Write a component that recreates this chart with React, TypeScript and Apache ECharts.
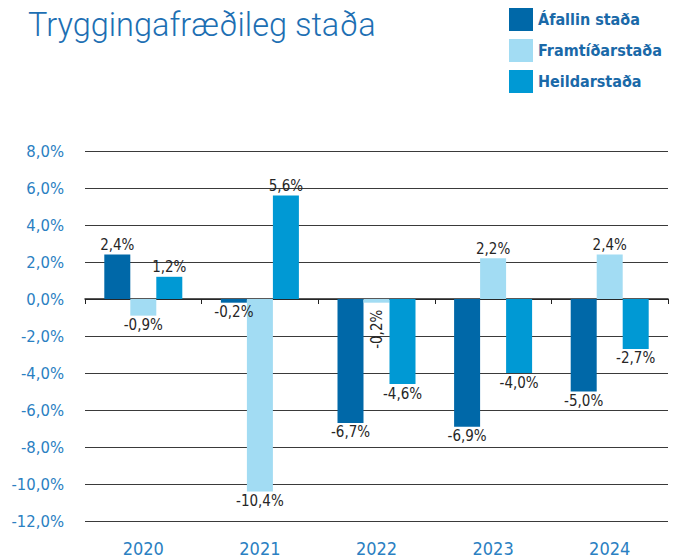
import React, { useEffect, useRef } from "react";
import * as echarts from "echarts";

const categories = ["2020", "2021", "2022", "2023", "2024"];
const seriesNames = ["Áfallin staða", "Framtíðarstaða", "Heildarstaða"];
const afallin = [2.4, -0.2, -6.7, -6.9, -5.0];
const framtidar = [-0.9, -10.4, -0.2, 2.2, 2.4];
const heildar = [1.2, 5.6, -4.6, -4.0, -2.7];
const titleText = "Tryggingafræðileg staða";

const colors = ["#0068a8", "#a2dcf3", "#0099d4"];
const FONT = "'DejaVu Sans Condensed', 'DejaVu Sans', sans-serif";

const fmt = (v: number) => v.toFixed(1).replace(".", ",") + "%";

export default function App() {
  const ref = useRef<HTMLDivElement>(null);
  useEffect(() => {
    document.body.style.margin = "0";
    const chart = echarts.init(ref.current!, null, { renderer: "svg" });
    const labelStyle = {
      show: true,
      position: "top" as const,
      distance: 2,
      fontFamily: FONT,
      fontSize: 15,
      color: "#262626",
      formatter: (p: any) => fmt(p.value),
    };
    const mkData = (arr: number[], rotateIdx: number[] = []) =>
      arr.map((v, i) => {
        const neg = v < 0;
        const rot = rotateIdx.includes(i);
        return {
          value: v,
          label: rot
            ? { ...labelStyle, position: "bottom", rotate: 90, align: "right", verticalAlign: "middle", distance: 7 }
            : { ...labelStyle, position: neg ? "bottom" : "top" },
        };
      });
    chart.setOption({
      animation: false,
      title: {
        text: titleText,
        left: 28,
        top: 8,
        padding: 0,
        textStyle: {
          fontFamily: "Roboto, sans-serif",
          fontWeight: 300,
          fontSize: 32.5,
          color: "#1d6fb3",
        },
      },
      legend: {
        orient: "vertical",
        left: 509,
        top: 8,
        padding: 0,
        itemWidth: 24,
        itemHeight: 23,
        itemGap: 8,
        icon: "rect",
        data: seriesNames,
        textStyle: {
          fontFamily: FONT,
          fontWeight: "bold",
          fontSize: 16,
          color: "#1a69a8",
        },
      },
      grid: { left: 85, right: 5, top: 151, bottom: 37 },
      xAxis: [
        {
          type: "category",
          data: categories,
          axisLine: { onZero: true, lineStyle: { color: "#222", width: 1.5 } },
          axisTick: { show: true, length: 5, lineStyle: { color: "#222" } },
          axisLabel: { show: false },
        },
        {
          type: "category",
          data: categories,
          position: "bottom",
          axisLine: { show: false },
          axisTick: { show: false },
          axisLabel: {
            margin: 18,
            fontFamily: FONT,
            fontSize: 18,
            color: "#2a80c2",
          },
        },
      ],
      yAxis: {
        type: "value",
        min: -12,
        max: 8,
        interval: 2,
        axisLine: { show: false },
        axisTick: { show: false },
        axisLabel: {
          margin: 21,
          fontFamily: FONT,
          fontSize: 16.5,
          color: "#2a80c2",
          formatter: (v: number) => fmt(v),
        },
        splitLine: { lineStyle: { color: "#3a3a3a", width: 1 } },
      },
      series: [
        {
          name: seriesNames[0],
          type: "bar",
          barWidth: 26,
          barGap: "0%",
          itemStyle: { color: colors[0] },
          data: mkData(afallin),
        },
        {
          name: seriesNames[1],
          type: "bar",
          barWidth: 26,
          barGap: "0%",
          itemStyle: { color: colors[1] },
          data: mkData(framtidar, [2]),
        },
        {
          name: seriesNames[2],
          type: "bar",
          barWidth: 26,
          barGap: "0%",
          itemStyle: { color: colors[2] },
          data: mkData(heildar),
        },
      ],
    });
    return () => chart.dispose();
  }, []);
  return <div ref={ref} style={{ width: 673, height: 558 }} />;
}
